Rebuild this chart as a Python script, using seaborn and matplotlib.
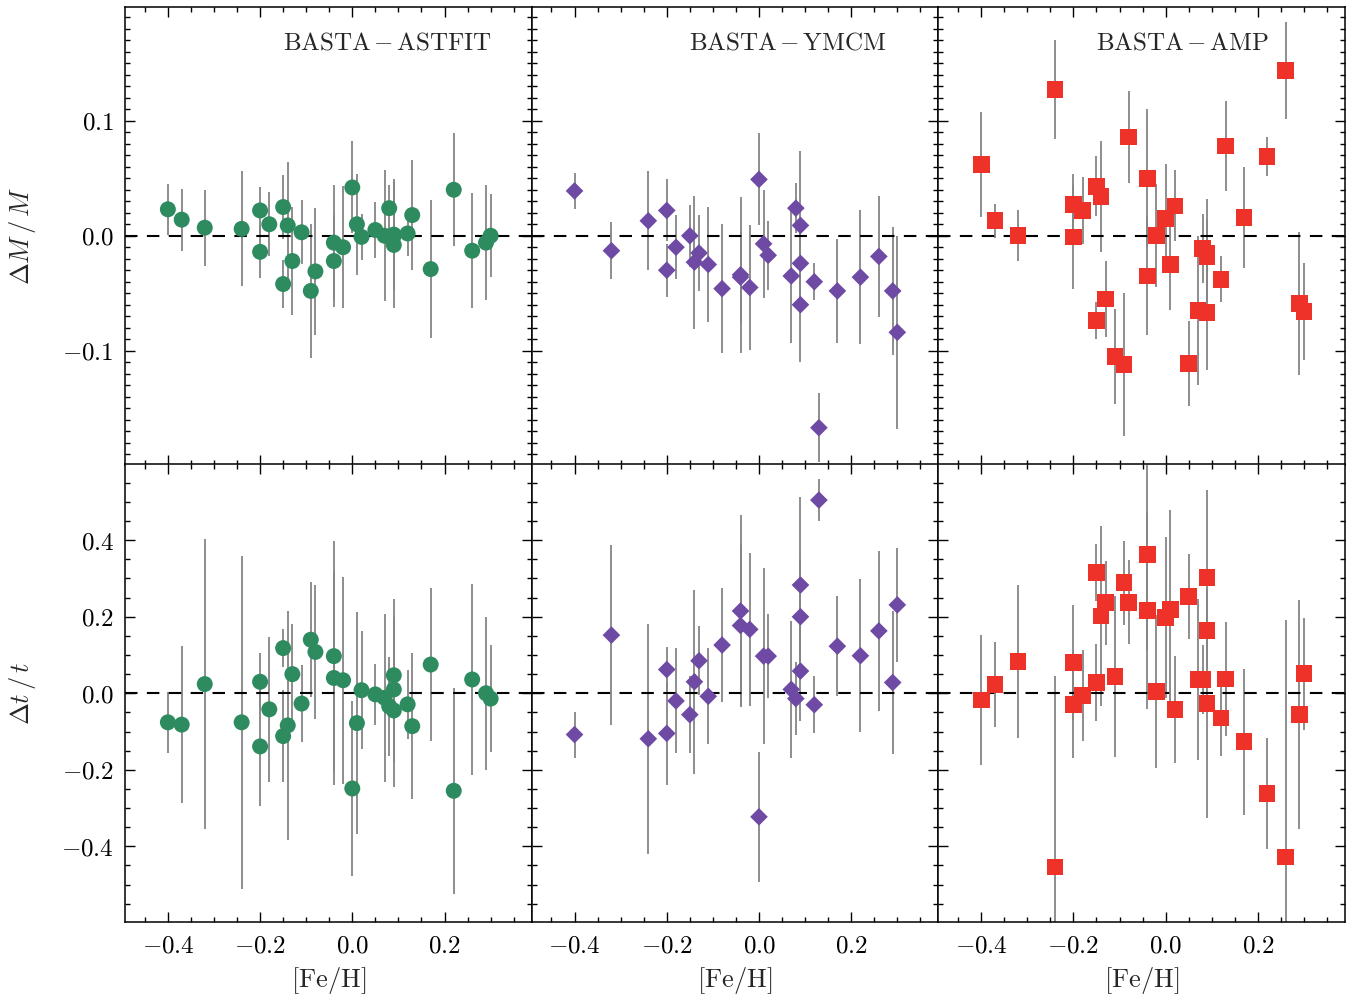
import numpy as np
import pandas as pd
import matplotlib
matplotlib.use("Agg")
import matplotlib.pyplot as plt
import seaborn as sns
from matplotlib.ticker import FixedLocator, MultipleLocator, FuncFormatter

# ---------------- data ----------------
feh_astfit = [-0.40, -0.37, -0.32, -0.24, -0.20, -0.20, -0.18, -0.15, -0.15, -0.14, -0.13,
              -0.11, -0.09, -0.08, -0.04, -0.04, -0.02, 0.00, 0.01, 0.02, 0.05, 0.07, 0.08,
              0.09, 0.09, 0.09, 0.12, 0.13, 0.17, 0.22, 0.26, 0.29, 0.30]
dm_astfit = [0.023, 0.014, 0.007, 0.006, 0.022, -0.014, 0.010, 0.025, -0.042, 0.009, -0.022,
             0.003, -0.048, -0.031, -0.006, -0.022, -0.010, 0.042, 0.010, -0.001, 0.005, 0.000,
             0.024, 0.001, -0.008, 0.000, 0.002, 0.018, -0.029, 0.040, -0.013, -0.006, 0.000]
dm_err_astfit = [0.022, 0.027, 0.033, 0.050, 0.020, 0.023, 0.028, 0.028, 0.021, 0.055, 0.047,
                 0.028, 0.058, 0.055, 0.050, 0.040, 0.053, 0.040, 0.044, 0.020, 0.024, 0.057,
                 0.020, 0.048, 0.055, 0.030, 0.020, 0.048, 0.060, 0.049, 0.050, 0.050, 0.036]
dt_astfit = [-0.076, -0.082, 0.024, -0.076, 0.030, -0.139, -0.042, 0.118, -0.112, -0.084, 0.050,
             -0.027, 0.140, 0.108, 0.097, 0.040, 0.034, -0.249, -0.078, 0.008, -0.003, -0.012,
             -0.034, 0.047, 0.010, -0.045, -0.029, -0.086, 0.075, -0.255, 0.036, 0.000, -0.014]
dt_err_astfit = [0.080, 0.205, 0.380, 0.436, 0.075, 0.155, 0.190, 0.050, 0.120, 0.300, 0.130,
                 0.100, 0.150, 0.175, 0.300, 0.280, 0.270, 0.230, 0.290, 0.155, 0.080, 0.220,
                 0.130, 0.200, 0.190, 0.200, 0.090, 0.190, 0.200, 0.270, 0.250, 0.200, 0.140]

feh_ymcm = [-0.40, -0.32, -0.24, -0.20, -0.20, -0.18, -0.15, -0.14, -0.13, -0.11, -0.08,
            -0.04, -0.04, -0.02, 0.00, 0.01, 0.02, 0.07, 0.08, 0.09, 0.09, 0.09, 0.12, 0.13,
            0.17, 0.22, 0.26, 0.29, 0.30]
dm_ymcm = [0.039, -0.013, 0.013, 0.022, -0.030, -0.010, 0.000, -0.023, -0.015, -0.025, -0.046,
           -0.034, -0.036, -0.045, 0.049, -0.007, -0.017, -0.035, 0.024, 0.009, -0.024, -0.060,
           -0.040, -0.167, -0.048, -0.036, -0.018, -0.048, -0.084]
dm_err_ymcm = [0.016, 0.025, 0.043, 0.027, 0.023, 0.028, 0.027, 0.058, 0.033, 0.050, 0.056,
               0.068, 0.040, 0.054, 0.040, 0.047, 0.030, 0.058, 0.022, 0.065, 0.030, 0.050,
               0.016, 0.030, 0.045, 0.058, 0.053, 0.056, 0.084]
dt_ymcm = [-0.108, 0.152, -0.119, 0.062, -0.105, -0.020, -0.056, 0.030, 0.085, -0.008, 0.126,
           0.215, 0.177, 0.167, -0.323, 0.097, 0.097, 0.010, -0.014, 0.283, 0.200, 0.058,
           -0.030, 0.505, 0.123, 0.098, 0.163, 0.028, 0.231]
dt_err_ymcm = [0.060, 0.235, 0.300, 0.060, 0.135, 0.137, 0.100, 0.240, 0.090, 0.125, 0.150,
               0.250, 0.210, 0.200, 0.170, 0.230, 0.110, 0.180, 0.095, 0.230, 0.150, 0.130,
               0.075, 0.055, 0.130, 0.200, 0.210, 0.187, 0.150]

feh_amp = list(feh_astfit)
dm_amp = [0.062, 0.013, 0.000, 0.127, 0.027, -0.001, 0.022, 0.043, -0.074, 0.034, -0.055,
          -0.105, -0.112, 0.086, 0.050, -0.035, 0.000, 0.015, -0.025, 0.026, -0.111, -0.065,
          -0.011, -0.018, -0.067, -0.015, -0.038, 0.078, 0.016, 0.069, 0.144, -0.059, -0.066]
dm_err_amp = [0.046, 0.015, 0.022, 0.043, 0.027, 0.045, 0.029, 0.026, 0.016, 0.048, 0.033,
              0.041, 0.062, 0.040, 0.060, 0.051, 0.045, 0.047, 0.040, 0.031, 0.037, 0.065,
              0.030, 0.050, 0.050, 0.030, 0.020, 0.039, 0.044, 0.017, 0.042, 0.062, 0.042]
dt_amp = [-0.018, 0.023, 0.083, -0.454, 0.080, -0.030, -0.006, 0.316, 0.028, 0.202, 0.237,
          0.044, 0.289, 0.238, 0.363, 0.216, 0.004, 0.198, 0.219, -0.042, 0.253, 0.036,
          0.036, 0.302, 0.164, -0.027, -0.065, 0.037, -0.127, -0.262, -0.428, -0.056, 0.051]
dt_err_amp = [0.170, 0.110, 0.200, 0.500, 0.150, 0.140, 0.120, 0.075, 0.100, 0.235, 0.110,
              0.210, 0.110, 0.110, 0.250, 0.256, 0.200, 0.210, 0.260, 0.140, 0.110, 0.210,
              0.090, 0.230, 0.100, 0.300, 0.100, 0.150, 0.190, 0.145, 0.620, 0.300, 0.146]

titles = [("BASTA", "ASTFIT"), ("BASTA", "YMCM"), ("BASTA", "AMP")]
x_ticks = [-0.4, -0.2, 0.0, 0.2]
dm_ticks = [-0.1, 0.0, 0.1]
dt_ticks = [-0.4, -0.2, 0.0, 0.2, 0.4]

# ---------------- style ----------------
sns.set_theme(style="ticks")
plt.rcParams.update({
    "font.family": ["DejaVu Serif"],
    "mathtext.fontset": "cm",
    "axes.formatter.use_mathtext": True,
    "axes.linewidth": 1.1,
    "axes.edgecolor": "black",
    "xtick.color": "black",
    "ytick.color": "black",
})

colors = ["#2e8b60", "#6f4aa5", "#ee3129"]
markers = ["o", "D", "s"]
msizes = [11.5, 9.0, 12.0]

fig, axes = plt.subplots(2, 3, figsize=(13.63, 10), dpi=100, sharex=True, sharey="row")
fig.subplots_adjust(left=0.0917, right=0.9868, top=0.993, bottom=0.078, hspace=0, wspace=0)

series = [
    (feh_astfit, dm_astfit, dm_err_astfit, dt_astfit, dt_err_astfit),
    (feh_ymcm, dm_ymcm, dm_err_ymcm, dt_ymcm, dt_err_ymcm),
    (feh_amp, dm_amp, dm_err_amp, dt_amp, dt_err_amp),
]


def fmt(v, pos):
    if abs(v) < 1e-9:
        v = 0.0
    return r"$%.1f$" % v


for j, (feh, dm, dme, dt, dte) in enumerate(series):
    for i, (yv, ye) in enumerate([(dm, dme), (dt, dte)]):
        ax = axes[i, j]
        ax.errorbar(feh, yv, yerr=ye, fmt="none", ecolor="#858585", elinewidth=1.3,
                    capsize=0, zorder=2)
        ax.axhline(0, color="black", lw=1.5, ls=(0, (6, 4.5)), zorder=2.5)
        df = pd.DataFrame({"feh": feh, "val": yv})
        sns.scatterplot(data=df, x="feh", y="val", ax=ax, marker=markers[j],
                        s=msizes[j] ** 2, color=colors[j], edgecolor="none", linewidth=0,
                        zorder=3, legend=False)
        ax.set_xlabel("")
        ax.set_ylabel("")
        ax.tick_params(which="both", direction="in", top=True, right=True,
                       labelsize=18, width=1.0)
        ax.tick_params(which="major", length=7.5)
        ax.tick_params(which="minor", length=3.8)
        ax.tick_params(axis="x", pad=9)
        ax.tick_params(axis="y", pad=8)
        for s in ax.spines.values():
            s.set_visible(True)
            s.set_color("black")
    a, b = titles[j]
    axes[0, j].text(0.388, 0.921, r"$\mathrm{%s}\,{-}\,\mathrm{%s}$" % (a, b),
                    transform=axes[0, j].transAxes, ha="left", va="center", fontsize=18)
    axes[1, j].set_xlabel(r"$[\mathrm{Fe/H}]$", fontsize=19)
    axes[1, j].xaxis.set_label_coords(0.5, -0.095)

for ax in axes.flat:
    ax.set_xlim(-0.493, 0.389)
    ax.xaxis.set_major_locator(FixedLocator(x_ticks))
    ax.xaxis.set_minor_locator(MultipleLocator(0.05))
    ax.xaxis.set_major_formatter(FuncFormatter(fmt))
    ax.yaxis.set_major_formatter(FuncFormatter(fmt))

for ax in axes[0]:
    ax.set_ylim(-0.199, 0.199)
    ax.yaxis.set_major_locator(FixedLocator(dm_ticks))
    ax.yaxis.set_minor_locator(MultipleLocator(0.01))
for ax in axes[1]:
    ax.set_ylim(-0.598, 0.598)
    ax.yaxis.set_major_locator(FixedLocator(dt_ticks))
    ax.yaxis.set_minor_locator(MultipleLocator(0.05))

axes[0, 0].set_ylabel(r"$\Delta M\,/\,M$", fontsize=19)
axes[1, 0].set_ylabel(r"$\Delta t\,/\,t$", fontsize=19)
axes[0, 0].yaxis.set_label_coords(-0.215, 0.5)
axes[1, 0].yaxis.set_label_coords(-0.215, 0.5)

fig.savefig("out.png", dpi=100)
